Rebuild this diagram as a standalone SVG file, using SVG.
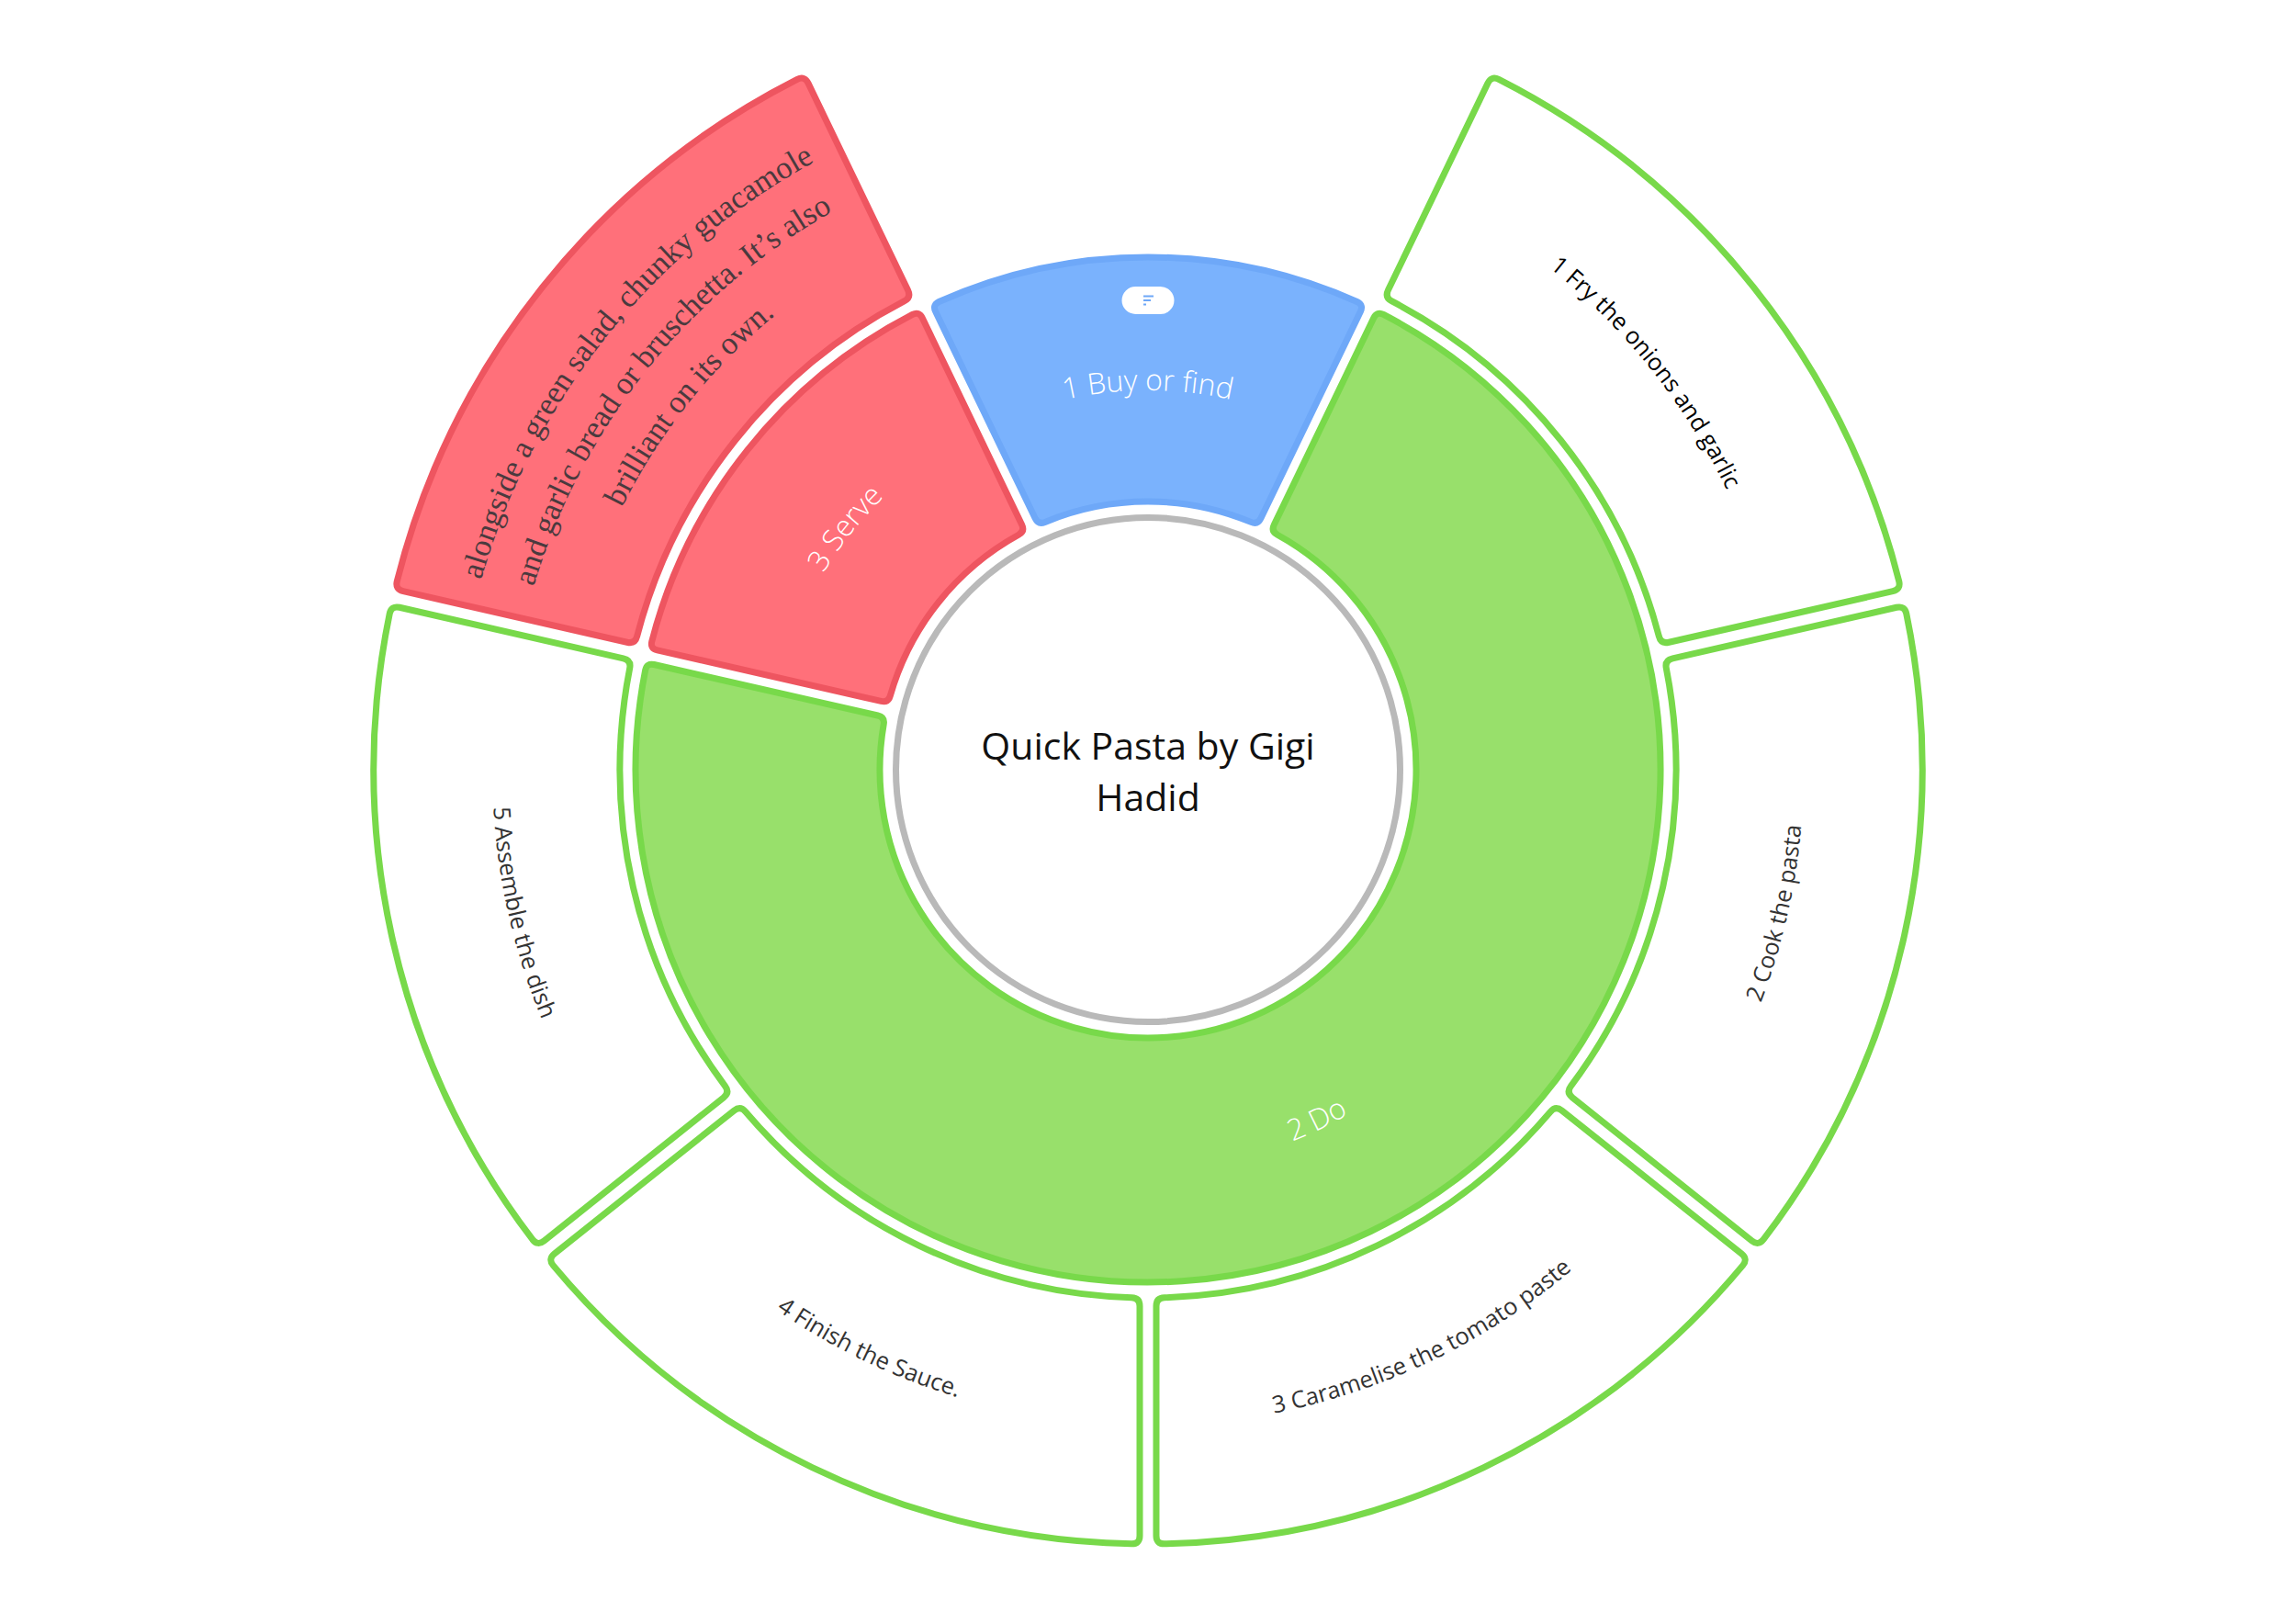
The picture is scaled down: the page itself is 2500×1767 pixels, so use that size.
<svg xmlns="http://www.w3.org/2000/svg" width="2500" height="1767" viewBox="0 0 2500 1767">
<style>
.blue{fill:#7ab2fd;stroke:#6ea8f8;stroke-width:7}
.red{fill:#ff707a;stroke:#ee5560;stroke-width:7}
.green{fill:#98e06b;stroke:#78d94a;stroke-width:7}
.leaf{fill:#fff;stroke:#78d94a;stroke-width:7}
.redleaf{fill:#ff707a;stroke:#ee5560;stroke-width:7}
.lab{font-family:"Open Sans","Liberation Sans",sans-serif;text-anchor:middle}
.inner{font-size:32px;font-weight:300;fill:#fff}
.outer{font-size:25.500px;fill:#333}
.ser{font-family:"Liberation Serif",serif;font-size:34.500px;fill:#4a3a3e;text-anchor:middle}
</style>
<defs>
<path id="s-inner" d="M-227.6,-509.5A558,558 0 0 1 227.6,-509.5Q234.9,-506.1 231.4,-498.9L122.9,-273.7Q119.4,-266.5 112.1,-269.6A292,292 0 0 0 -112.1,-269.6Q-119.4,-266.5 -122.9,-273.7L-231.4,-498.9Q-234.9,-506.1 -227.6,-509.5Z"/>
<path id="s-outer" d="M-349.5,-767.2A843,843 0 0 1 349.5,-767.2Q357.6,-763.4 353.7,-755.3L245.2,-530Q241.3,-521.9 233.2,-525.6A575,575 0 0 0 -233.2,-525.6Q-241.3,-521.9 -245.2,-530L-353.7,-755.3Q-357.6,-763.4 -349.5,-767.2Z"/>
<path id="a413" d="M-357.7,-206.500A413,413 0 0 1 357.7,-206.500"/>
<path id="a700" d="M-606.200,-350A700,700 0 0 1 606.200,-350"/>
<path id="a755" d="M-653.8,-377.5A755,755 0 0 1 653.8,-377.5"/>
<path id="a698" d="M-604.5,-349A698,698 0 0 1 604.5,-349"/>
<path id="a640" d="M-554.3,-320A640,640 0 0 1 554.3,-320"/>
<path id="b434" d="M-375.9,217A434,434 0 0 0 375.9,217"/>
<path id="b714" d="M-618.3,357A714,714 0 0 0 618.3,357"/>
</defs>
<rect width="2500" height="1767" fill="#fff"/>
<g transform="translate(1250,838)">
<g id="node-center">
<circle r="274.500" fill="#fff" stroke="#b9b9b9" stroke-width="7"/>
<text class="lab" x="0" y="-11" font-size="41" fill="#111">Quick Pasta by Gigi</text>
<text class="lab" x="0" y="45" font-size="41" fill="#111">Hadid</text>
</g>
<g id="node-buy">
<use href="#s-inner" class="blue"/>
<text class="lab inner"><textPath href="#a413" startOffset="50%">1 Buy or find</textPath></text>
<rect x="-28.5" y="-526" width="57" height="30" rx="15" fill="#fff"/>
<path d="M-5,-515.500H6M-5,-511H3M-5,-506.500H-2" stroke="#6ea8f8" stroke-width="1.800" fill="none"/>
</g>
<g id="node-do">
<path class="green" d="M256.4,-495.6A558,558 0 1 1 -547.3,-108.5Q-545.7,-116.3 -537.9,-114.5L-294.2,-59Q-286.4,-57.2 -287.8,-49.3A292,292 0 1 0 140.9,-255.7Q133.8,-259.5 137.3,-266.7L245.8,-492Q249.3,-499.2 256.4,-495.6Z"/>
<text class="lab inner" transform="rotate(-25.71)"><textPath href="#b434" startOffset="50%">2 Do</textPath></text>
</g>
<g id="node-serve" transform="rotate(-51.43)">
<use href="#s-inner" class="red"/>
<text class="lab inner"><textPath href="#a413" startOffset="50%">3 Serve</textPath></text>
</g>
<g id="node-serve-note" transform="rotate(-51.43)">
<use href="#s-outer" class="redleaf"/>
<text class="ser"><textPath href="#a755" startOffset="50%">alongside a green salad, chunky guacamole</textPath></text>
<text class="ser"><textPath href="#a698" startOffset="50%">and garlic bread or bruschetta. It’s also</textPath></text>
<text class="ser"><textPath href="#a640" startOffset="50%">brilliant on its own.</textPath></text>
</g>
<g id="node-fry" transform="rotate(51.43)">
<use href="#s-outer" class="leaf"/>
<text class="lab outer" style="fill:#000"><textPath href="#a700" startOffset="50%">1 Fry the onions and garlic</textPath></text>
</g>
<g id="node-cook">
<use href="#s-outer" class="leaf" transform="rotate(102.86)"/>
<text class="lab outer" transform="rotate(-77.14)"><textPath href="#b714" startOffset="50%">2 Cook the pasta</textPath></text>
</g>
<g id="node-caramelise">
<use href="#s-outer" class="leaf" transform="rotate(154.29)"/>
<text class="lab outer" transform="rotate(-25.71)"><textPath href="#b714" startOffset="50%">3 Caramelise the tomato paste</textPath></text>
</g>
<g id="node-finish">
<use href="#s-outer" class="leaf" transform="rotate(205.71)"/>
<text class="lab outer" transform="rotate(25.71)"><textPath href="#b714" startOffset="50%">4 Finish the Sauce.</textPath></text>
</g>
<g id="node-assemble">
<use href="#s-outer" class="leaf" transform="rotate(257.14)"/>
<text class="lab outer" transform="rotate(77.14)"><textPath href="#b714" startOffset="50%">5 Assemble the dish</textPath></text>
</g>
</g>
</svg>
